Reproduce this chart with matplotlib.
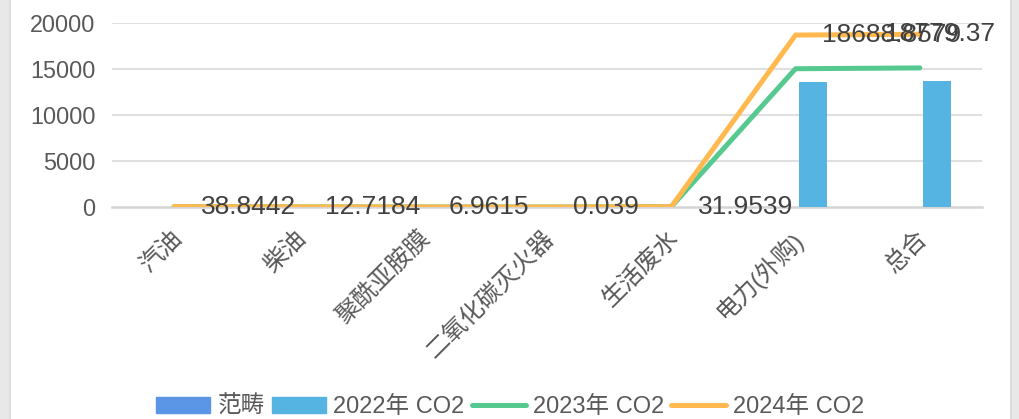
import matplotlib
matplotlib.use("Agg")
import matplotlib.pyplot as plt
import matplotlib.transforms as mtransforms
import numpy as np
from matplotlib.patches import Rectangle
from matplotlib.lines import Line2D

plt.rcParams['font.family'] = ['Liberation Sans', 'Noto Sans CJK SC', 'DejaVu Sans']

categories = ['汽油', '柴油', '聚酰亚胺膜', '二氧化碳灭火器', '生活废水', '电力(外购)', '总合']
fanchou = [0, 0, 0, 0, 0, 0, 0]
co2_2022 = [35.0, 12.0, 6.5, 0.04, 30.0, 13560.0, 13644.0]
co2_2023 = [37.0, 12.5, 6.8, 0.04, 31.0, 15030.0, 15117.0]
co2_2024 = [38.8442, 12.7184, 6.9615, 0.039, 31.9539, 18688.8579, 18779.37]
labels_2024 = ['38.8442', '12.7184', '6.9615', '0.039', '31.9539', '18688.8579', '18779.37']
yticks = [0, 5000, 10000, 15000, 20000]

C_FAN = '#5B95E5'
C_2022 = '#56B4E3'
C_2023 = '#55C98F'
C_2024 = '#FFB94F'
TXT = '#595959'

fig = plt.figure(figsize=(10.2, 4.19), dpi=100)
ax = fig.add_axes([112/1020, 1-207/419, 870/1020, 184/419])

x = np.arange(len(categories))
bw = 0.225
ax.bar(x - 0.11, fanchou, bw, color=C_FAN, zorder=2)
ax.bar(x + 0.14, co2_2022, bw, color=C_2022, zorder=2)
ax.plot(x, co2_2023, color=C_2023, lw=3.6, solid_capstyle='round', solid_joinstyle='round', zorder=3)
ax.plot(x, co2_2024, color=C_2024, lw=3.6, solid_capstyle='round', solid_joinstyle='round', zorder=4)

for i, (v, s) in enumerate(zip(co2_2024, labels_2024)):
    if i == len(co2_2024) - 1:
        ax.annotate(s, (x[i], v), xytext=(54, 0), textcoords='offset points',
                    ha='right', va='center', fontsize=19, color='#404040', zorder=5,
                    annotation_clip=False)
    else:
        ax.annotate(s, (x[i], v), xytext=(19, 0), textcoords='offset points',
                    ha='left', va='center', fontsize=19, color='#404040', zorder=5,
                    annotation_clip=False)

ax.set_xlim(-0.5, len(categories) - 0.5)
ax.set_ylim(0, 20000)
ax.set_yticks(yticks)
ax.set_yticklabels([str(t) for t in yticks])
ax.set_xticks(x)
ax.set_xticklabels(categories)
ax.tick_params(axis='y', length=0, pad=12, labelsize=16.8, labelcolor=TXT)
ax.tick_params(axis='x', length=0, pad=20, labelsize=17.5, labelcolor=TXT)
shift = mtransforms.ScaledTranslation(4/100, 0, fig.dpi_scale_trans)
for lab in ax.get_xticklabels():
    lab.set_rotation(45)
    lab.set_ha('right')
    lab.set_va('center')
    lab.set_rotation_mode('anchor')
    lab.set_transform(lab.get_transform() + shift)

ax.grid(axis='y', color='#E0E0E0', lw=1.5, zorder=0)
for sp in ['top', 'right', 'left']:
    ax.spines[sp].set_visible(False)
ax.spines['bottom'].set_color('#D4D4D4')
ax.spines['bottom'].set_linewidth(1.8)
ax.spines['bottom'].set_zorder(1)

handles = [
    Rectangle((0, 0), 1, 1, color=C_FAN),
    Rectangle((0, 0), 1, 1, color=C_2022),
    Line2D([0], [0], color=C_2023, lw=3.6, solid_capstyle='round'),
    Line2D([0], [0], color=C_2024, lw=3.6, solid_capstyle='round'),
]
leg = fig.legend(handles, ['范畴', '2022年 CO2', '2023年 CO2', '2024年 CO2'],
                 loc='center', bbox_to_anchor=(0.5, 1-407/419), ncol=4, frameon=False,
                 fontsize=17, handlelength=2.3, handleheight=0.7, handletextpad=0.3,
                 columnspacing=0.3, labelcolor=TXT)

# side bands
fig.patches.append(Rectangle((0, 0), 11/1020, 1, transform=fig.transFigure,
                             facecolor='#E8E8E8', edgecolor='none', zorder=0))
fig.patches.append(Rectangle((9/1020, 0), 2/1020, 1, transform=fig.transFigure,
                             facecolor='#DCDCDC', edgecolor='none', zorder=0))
fig.patches.append(Rectangle((1010/1020, 0), 10/1020, 1, transform=fig.transFigure,
                             facecolor='#E8E8E8', edgecolor='none', zorder=0))
fig.patches.append(Rectangle((1010/1020, 0), 2/1020, 1, transform=fig.transFigure,
                             facecolor='#DCDCDC', edgecolor='none', zorder=0))

fig.savefig('out.png', dpi=100)
